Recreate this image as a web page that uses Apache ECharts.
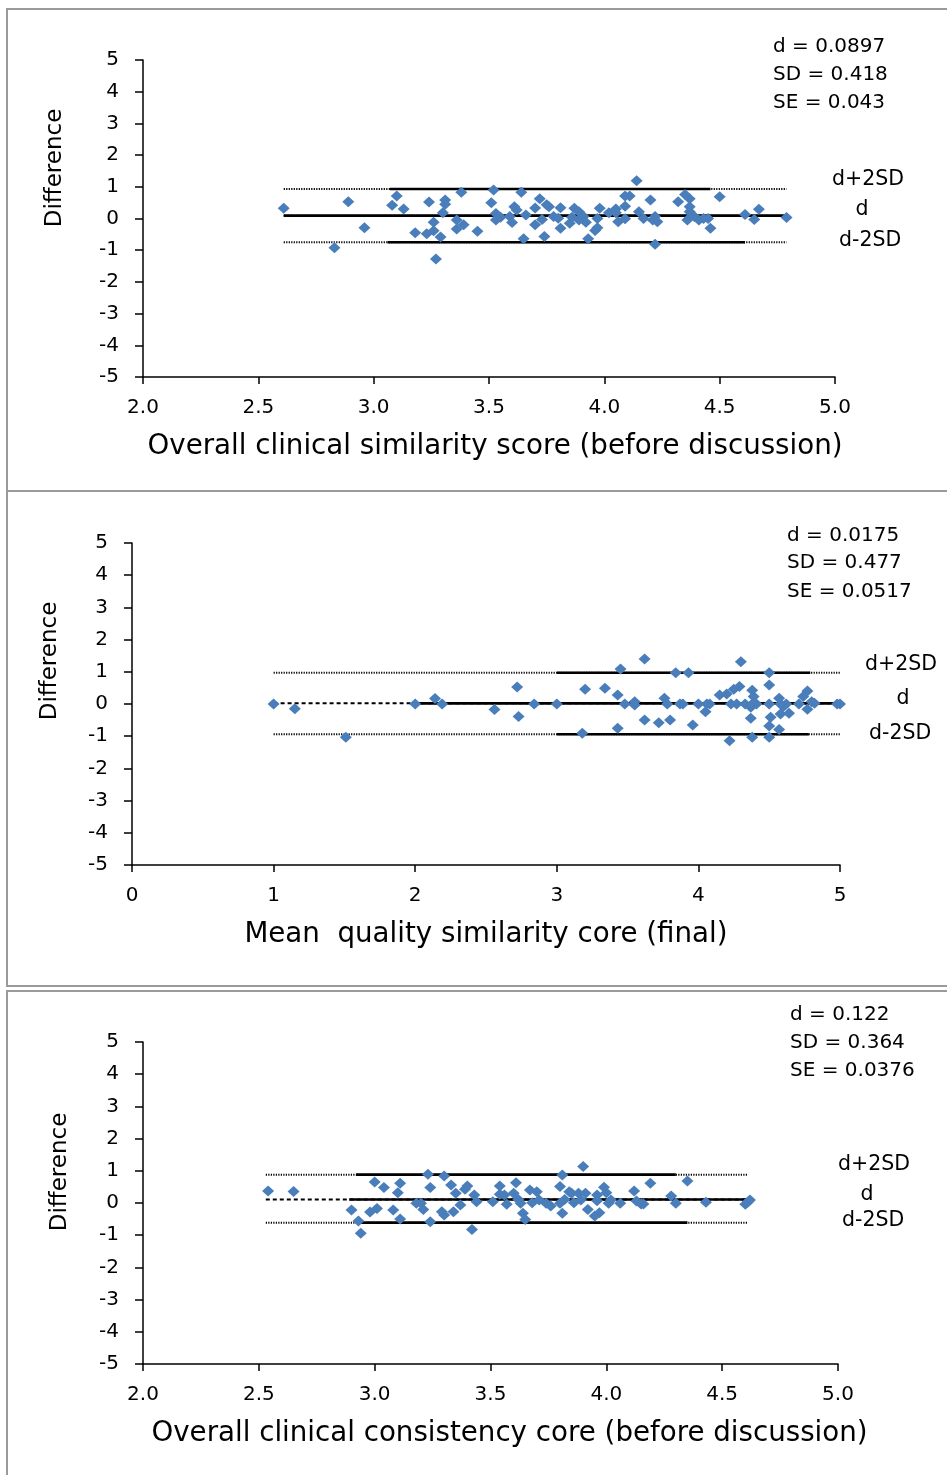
<!DOCTYPE html>
<html>
<head>
<meta charset="utf-8">
<script src="https://cdn.jsdelivr.net/npm/echarts@6/dist/echarts.min.js"></script>
<style>
html,body{margin:0;padding:0;background:#fff;}
#chart{width:947px;height:1475px;}
</style>
</head>
<body>
<div id="chart"></div>
<script>
// ---------- DATA ----------
const yTicks = [-5, -4, -3, -2, -1, 0, 1, 2, 3, 4, 5];
const xTicks1 = ['2.0','2.5','3.0','3.5','4.0','4.5','5.0'];
const xTicks2 = ['0','1','2','3','4','5'];
const xTicks3 = ['2.0','2.5','3.0','3.5','4.0','4.5','5.0'];

const titles1 = {x: 'Overall clinical similarity score (before discussion)', y: 'Difference'};
const titles2 = {x: 'Mean  quality similarity core (final)', y: 'Difference'};
const titles3 = {x: 'Overall clinical consistency core (before discussion)', y: 'Difference'};

const stats1 = ['d = 0.0897', 'SD = 0.418', 'SE = 0.043'];
const stats2 = ['d = 0.0175', 'SD = 0.477', 'SE = 0.0517'];
const stats3 = ['d = 0.122', 'SD = 0.364', 'SE = 0.0376'];
const limitLabels = ['d+2SD', 'd', 'd-2SD'];

// panel 1 points [mean score, difference]
const points1 = [
 [2.61,0.32],[2.83,-0.92],[2.89,0.53],[2.96,-0.29],[3.08,0.42],[3.10,0.71],[3.13,0.30],[3.18,-0.45],
 [3.23,-0.48],[3.24,0.52],[3.26,-0.39],[3.26,-0.12],[3.27,-1.28],[3.29,-0.58],[3.31,0.58],[3.31,0.45],
 [3.30,0.18],[3.36,-0.05],[3.36,-0.33],[3.38,0.83],[3.39,-0.20],[3.45,-0.40],[3.51,0.50],[3.52,0.90],
 [3.53,0.16],[3.53,-0.05],[3.55,0.04],[3.59,0.06],[3.60,-0.13],[3.61,0.37],[3.62,0.27],[3.64,0.83],
 [3.66,0.11],[3.65,-0.64],[3.70,0.33],[3.72,0.62],[3.70,-0.20],[3.73,-0.03],[3.74,-0.57],[3.75,0.43],
 [3.76,0.37],[3.78,0.06],[3.81,0.34],[3.80,0.01],[3.81,-0.31],[3.85,-0.15],[3.86,0.04],[3.87,0.32],
 [3.89,0.21],[3.89,-0.05],[3.91,0.06],[3.92,-0.12],[3.93,-0.64],[3.96,-0.38],[3.97,-0.29],[3.97,0.00],
 [3.98,0.32],[4.02,0.18],[4.05,0.30],[4.05,0.18],[4.06,-0.10],[4.09,-0.01],[4.09,0.39],[4.09,0.71],
 [4.11,0.71],[4.14,1.19],[4.15,0.21],[4.17,0.00],[4.20,0.58],[4.21,-0.05],[4.22,0.06],[4.22,-0.81],
 [4.23,-0.10],[4.32,0.53],[4.35,0.76],[4.37,0.62],[4.37,0.37],[4.37,0.21],[4.36,-0.05],[4.39,0.06],
 [4.41,-0.05],[4.43,0.00],[4.45,0.00],[4.46,-0.31],[4.50,0.69],[4.61,0.13],[4.67,0.29],[4.65,-0.03],
 [4.79,0.03]
];
// panel 2 points
const points2 = [
 [1.00,0],[1.15,-0.15],[1.51,-1.03],[2.00,0],[2.14,0.17],[2.19,0],[2.56,-0.17],[2.72,0.53],
 [2.73,-0.39],[2.84,0],[3.00,0],[3.18,-0.91],[3.20,0.46],[3.34,0.49],[3.43,0.28],[3.45,1.09],
 [3.43,-0.75],[3.48,0],[3.55,0.07],[3.55,-0.03],[3.62,1.40],[3.62,-0.50],[3.72,-0.58],[3.76,0.18],
 [3.78,0],[3.80,-0.50],[3.84,0.97],[3.87,0],[3.89,0],[3.93,0.97],[3.96,-0.65],[4.00,0],
 [4.05,-0.24],[4.06,0],[4.08,0],[4.15,0.28],[4.20,0.31],[4.22,-1.14],[4.23,0],[4.25,0.46],
 [4.27,0],[4.29,0.54],[4.30,1.31],[4.33,0],[4.38,0.43],[4.39,0.23],[4.38,0],[4.37,-0.10],
 [4.37,-0.44],[4.38,-1.03],[4.41,0],[4.50,0.97],[4.50,0.59],[4.50,0],[4.51,-0.41],[4.50,-0.68],
 [4.50,-1.03],[4.57,0.18],[4.58,0],[4.60,-0.08],[4.58,-0.31],[4.57,-0.79],[4.62,0],[4.64,-0.29],
 [4.71,0],[4.74,0.23],[4.77,0.40],[4.77,-0.16],[4.80,0.07],[4.82,0.02],[4.98,0],[5.00,0]
];
// panel 3 points
const points3 = [
 [2.54,0.37],[2.65,0.36],[2.90,-0.22],[2.93,-0.56],[2.94,-0.94],[2.98,-0.28],[3.00,0.65],[3.01,-0.17],
 [3.04,0.48],[3.08,-0.22],[3.10,0.32],[3.11,-0.50],[3.11,0.61],[3.18,-0.01],[3.20,-0.01],[3.21,-0.20],
 [3.23,0.89],[3.24,0.48],[3.24,-0.58],[3.29,-0.27],[3.30,-0.37],[3.30,0.84],[3.33,0.56],[3.34,-0.27],
 [3.35,0.30],[3.37,-0.06],[3.39,0.43],[3.40,0.53],[3.42,-0.82],[3.43,0.25],[3.44,0.04],[3.51,0.04],
 [3.54,0.53],[3.54,0.27],[3.57,-0.04],[3.56,0.25],[3.60,0.30],[3.61,0.63],[3.62,0.11],[3.63,-0.01],
 [3.64,-0.32],[3.65,-0.51],[3.67,0.40],[3.68,0.01],[3.70,0.35],[3.71,0.09],[3.74,-0.01],[3.76,-0.09],
 [3.80,-0.01],[3.80,0.51],[3.81,0.87],[3.81,-0.32],[3.82,0.11],[3.84,0.35],[3.85,0.30],[3.86,0.01],
 [3.88,0.30],[3.89,0.09],[3.90,1.13],[3.91,0.30],[3.92,-0.20],[3.95,-0.40],[3.96,0.25],[3.96,0.07],
 [3.97,-0.30],[3.99,0.49],[4.00,0.32],[4.02,0.09],[4.01,-0.01],[4.06,-0.01],[4.12,0.37],[4.13,0.06],
 [4.15,-0.03],[4.16,-0.03],[4.19,0.61],[4.28,0.22],[4.30,-0.01],[4.35,0.68],[4.43,0.02],[4.60,-0.04],
 [4.61,0.02],[4.62,0.09]
];

// limit lines: level values [d+2SD, d, d-2SD]
const levels1 = [0.93, 0.09, -0.75];
const levels2 = [0.97, 0.02, -0.94];
const levels3 = [0.88, 0.11, -0.61];
// full extent of lines (dotted), and solid portions per level
const span1 = [2.61, 4.79];
const solid1 = [[3.07, 4.46], [2.61, 4.79], [3.06, 4.61]];
const span2 = [1.0, 5.0];
const solid2 = [[3.0, 4.79], [2.0, 5.0], [3.0, 4.78]];
const span3 = [2.53, 4.61];
const solid3 = [[2.92, 4.30], [2.89, 4.61], [2.92, 4.35]];

// ---------- CHART ----------
const FONT = 'DejaVu Sans';
const BLUE = '#4A7EBB';
const chart = echarts.init(document.getElementById('chart'), null, {renderer: 'canvas'});

const grids = [
  {left: 143, top: 60, width: 692, height: 317},
  {left: 132, top: 543, width: 708, height: 322},
  {left: 143, top: 1042, width: 695, height: 322}
];

function xAxisDef(i, min, max, interval, ticks, title, namePad) {
  return {
    type: 'value', gridIndex: i, min: min, max: max, interval: interval,
    axisLine: {onZero: false, lineStyle: {color: '#000', width: 1.5}},
    axisTick: {show: true, length: 7, lineStyle: {color: '#000', width: 1.5}},
    splitLine: {show: false},
    axisLabel: {
      color: '#000', fontFamily: FONT, fontSize: 20, margin: 21,
      formatter: function (v) {
        const idx = Math.round((v - min) / interval);
        return ticks[idx] !== undefined ? ticks[idx] : '';
      }
    },
    name: title, nameLocation: 'middle', nameGap: 56,
    nameTextStyle: {color: '#000', fontFamily: FONT, fontSize: 27.7, padding: namePad}
  };
}
function yAxisDef(i) {
  return {
    type: 'value', gridIndex: i, min: yTicks[0], max: yTicks[yTicks.length - 1], interval: 1,
    axisLine: {onZero: false, lineStyle: {color: '#000', width: 1.5}},
    axisTick: {show: true, length: 8, lineStyle: {color: '#000', width: 1.5}},
    splitLine: {show: false},
    axisLabel: {color: '#000', fontFamily: FONT, fontSize: 20, margin: 24}
  };
}

function limitSeries(gi, levels, span, solids) {
  const out = [];
  levels.forEach(function (lv, k) {
    out.push({
      type: 'line', xAxisIndex: gi, yAxisIndex: gi, symbol: 'none', silent: true, z: 2,
      data: [[span[0], lv], [span[1], lv]],
      lineStyle: {color: '#000', width: 2, type: (k === 1 && gi !== 0) ? [4, 3] : [1.2, 1.3]}
    });
    out.push({
      type: 'line', xAxisIndex: gi, yAxisIndex: gi, symbol: 'none', silent: true, z: 3,
      data: [[solids[k][0], lv], [solids[k][1], lv]],
      lineStyle: {color: '#000', width: 2.6, type: 'solid'}
    });
  });
  return out;
}
function scatterSeries(gi, pts) {
  return {
    type: 'scatter', xAxisIndex: gi, yAxisIndex: gi, z: 5,
    symbol: 'diamond', symbolSize: [12, 11],
    itemStyle: {color: BLUE, opacity: 1},
    data: pts
  };
}

function textEl(str, x, y, size, align, rot) {
  return {
    type: 'text', x: x, y: y, z: 10, rotation: rot || 0,
    style: {text: str, x: 0, y: 0, fill: '#000', font: size + 'px "' + FONT + '"',
            textAlign: align || 'left', textVerticalAlign: 'middle'}
  };
}

const graphics = [
  {type: 'rect', shape: {x: 7, y: 9, width: 960, height: 482}, style: {fill: 'none', stroke: '#9a9a9a', lineWidth: 2}, z: 0},
  {type: 'rect', shape: {x: 7, y: 491, width: 960, height: 495}, style: {fill: 'none', stroke: '#9a9a9a', lineWidth: 2}, z: 0},
  {type: 'rect', shape: {x: 7, y: 991, width: 960, height: 500}, style: {fill: 'none', stroke: '#9a9a9a', lineWidth: 2}, z: 0}
];
// y-axis titles (rotated)
graphics.push(textEl(titles1.y, 55, 168, 23, 'center', Math.PI / 2));
graphics.push(textEl(titles2.y, 50, 661, 23, 'center', Math.PI / 2));
graphics.push(textEl(titles3.y, 60, 1172, 23, 'center', Math.PI / 2));
// stats blocks
[[stats1, 773, [47, 75, 103]], [stats2, 787, [536, 563, 592]], [stats3, 790, [1015, 1043, 1071]]].forEach(function (b) {
  b[0].forEach(function (s, i) { graphics.push(textEl(s, b[1], b[2][i], 20)); });
});
// limit labels
graphics.push(textEl(limitLabels[0], 832, 180, 20.5));
graphics.push(textEl(limitLabels[1], 862, 210, 20.5, 'center'));
graphics.push(textEl(limitLabels[2], 839, 241, 20.5));
graphics.push(textEl(limitLabels[0], 865, 665, 20.5));
graphics.push(textEl(limitLabels[1], 903, 699, 20.5, 'center'));
graphics.push(textEl(limitLabels[2], 869, 734, 20.5));
graphics.push(textEl(limitLabels[0], 838, 1165, 20.5));
graphics.push(textEl(limitLabels[1], 867, 1195, 20.5, 'center'));
graphics.push(textEl(limitLabels[2], 842, 1221, 20.5));

const option = {
  animation: false,
  backgroundColor: '#fff',
  grid: grids,
  xAxis: [
    xAxisDef(0, 2, 5, 0.5, xTicks1, titles1.x, [0, 0, 0, 12]),
    xAxisDef(1, 0, 5, 1, xTicks2, titles2.x, [0, 0, 0, 0]),
    xAxisDef(2, 2, 5, 0.5, xTicks3, titles3.x, [0, 0, 0, 38])
  ],
  yAxis: [yAxisDef(0), yAxisDef(1), yAxisDef(2)],
  series: [].concat(
    limitSeries(0, levels1, span1, solid1),
    limitSeries(1, levels2, span2, solid2),
    limitSeries(2, levels3, span3, solid3),
    [scatterSeries(0, points1), scatterSeries(1, points2), scatterSeries(2, points3)]
  ),
  graphic: graphics
};
chart.setOption(option);
</script>
</body>
</html>
